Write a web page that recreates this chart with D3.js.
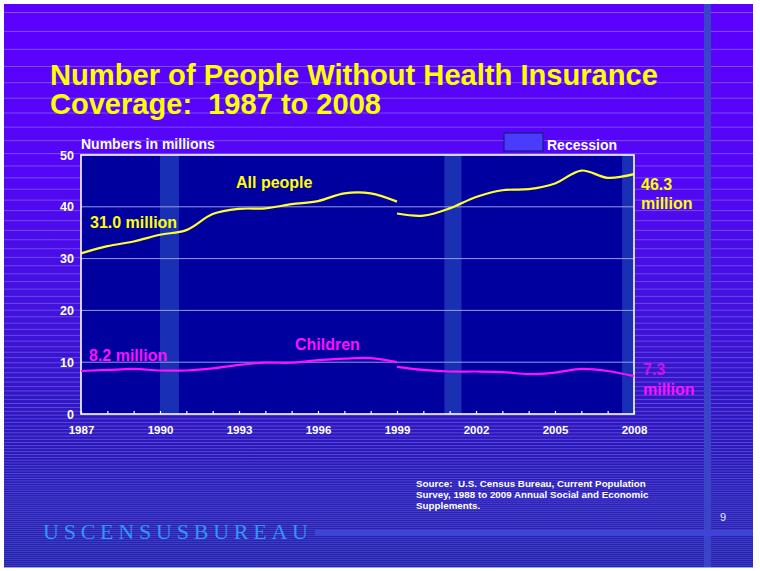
<!DOCTYPE html>
<html>
<head>
<meta charset="utf-8">
<script src="https://cdn.jsdelivr.net/npm/d3@7"></script>
<style>
  html, body { margin: 0; padding: 0; background: #ffffff; }
  svg { display: block; font-family: "Liberation Sans", Arial, sans-serif; }
</style>
</head>
<body>
<svg id="chart" width="760" height="571"></svg>
<script>
// data
years_old = [1987, 1988, 1989, 1990, 1991, 1992, 1993, 1994, 1995, 1996, 1997, 1998, 1999];
all_old = [31.0, 32.4, 33.3, 34.6, 35.5, 38.6, 39.6, 39.7, 40.5, 41.1, 42.6, 42.6, 41.0];
kids_old = [8.3, 8.5, 8.7, 8.4, 8.4, 8.8, 9.5, 9.9, 9.9, 10.4, 10.7, 10.8, 10.0];

years_new = [1999, 2000, 2001, 2002, 2003, 2004, 2005, 2006, 2007, 2008];
all_new = [38.7, 38.3, 39.7, 41.9, 43.2, 43.4, 44.5, 47.0, 45.6, 46.3];
kids_new = [9.1, 8.5, 8.2, 8.2, 8.1, 7.7, 8.0, 8.7, 8.3, 7.3];

recession_start = [1990.0, 2000.8, 2007.55];
recession_end = [1990.72, 2001.45, 2008.0];

x_tick_labels = [1987, 1990, 1993, 1996, 1999, 2002, 2005, 2008];
y_ticks = [0, 10, 20, 30, 40, 50];

var svg = d3.select("#chart");

// slide background
var defs = svg.append("defs");
var grad = defs.append("linearGradient").attr("id", "bg").attr("x1", 0).attr("y1", 0).attr("x2", 0).attr("y2", 1);
grad.append("stop").attr("offset", "0%").attr("stop-color", "#5c00ff");
grad.append("stop").attr("offset", "30%").attr("stop-color", "#5406f6");
grad.append("stop").attr("offset", "55%").attr("stop-color", "#4212dc");
grad.append("stop").attr("offset", "78%").attr("stop-color", "#2c18b8");
grad.append("stop").attr("offset", "100%").attr("stop-color", "#1c1c9c");

svg.append("rect").attr("x", 4).attr("y", 4).attr("width", 749).attr("height", 563).attr("fill", "url(#bg)");

// stripes get denser towards the bottom
var stripes = [];
var sy = 12;
while (sy < 567) {
  stripes.push(sy);
  var t = sy / 567;
  sy += Math.max(2, 18 * Math.pow(1 - t, 1.6) + 1.5);
}
svg.append("g").selectAll("line").data(stripes).join("line")
  .attr("x1", 4).attr("x2", 753)
  .attr("y1", d => d + 0.5).attr("y2", d => d + 0.5)
  .attr("stroke", d => d3.interpolateRgb("#9a70ff", "#5656e6")(d / 567))
  .attr("stroke-opacity", 0.7)
  .attr("stroke-width", 1);

// vertical bar and logo bar
svg.append("rect").attr("x", 704).attr("y", 4).attr("width", 7).attr("height", 563).attr("fill", "#3a44c8");
svg.append("rect").attr("x", 315).attr("y", 530).attr("width", 438).attr("height", 6).attr("fill", "#3f44d6");

// title
svg.append("text").attr("x", 50).attr("y", 85)
  .attr("font-size", 30).attr("font-weight", "bold").attr("fill", "#ffff00")
  .attr("textLength", 608).attr("lengthAdjust", "spacingAndGlyphs")
  .text("Number of People Without Health Insurance");
svg.append("text").attr("x", 50).attr("y", 114)
  .attr("font-size", 30).attr("font-weight", "bold").attr("fill", "#ffff00")
  .style("white-space", "pre")
  .attr("textLength", 331).attr("lengthAdjust", "spacingAndGlyphs")
  .text("Coverage:  1987 to 2008");

// plot
var plotLeft = 81, plotTop = 155, pw = 553, ph = 259;
var x = d3.scaleLinear().domain([1987, 2008]).range([plotLeft, plotLeft + pw]);
var y = d3.scaleLinear().domain([0, 50]).range([plotTop + ph, plotTop]);

svg.append("rect").attr("x", plotLeft).attr("y", plotTop).attr("width", pw).attr("height", ph).attr("fill", "#00009e");

svg.append("g").selectAll("rect").data(recession_start).join("rect")
  .attr("x", d => x(d))
  .attr("width", (d, i) => x(recession_end[i]) - x(d))
  .attr("y", plotTop).attr("height", ph)
  .attr("fill", "#1a30b4");

svg.append("g").selectAll("line").data(y_ticks.filter(d => d > 0 && d < 50)).join("line")
  .attr("x1", plotLeft).attr("x2", plotLeft + pw)
  .attr("y1", d => y(d)).attr("y2", d => y(d))
  .attr("stroke", "#9a9ae0").attr("stroke-width", 1);

// axes
var yAxis = d3.axisLeft(y).tickValues(y_ticks).tickSize(0).tickPadding(7);
var gy = svg.append("g").attr("transform", "translate(" + plotLeft + ",0)").call(yAxis);
gy.select(".domain").remove();
gy.attr("font-family", null);
gy.selectAll("text").attr("fill", "#ffffff").attr("font-size", 12.5).attr("font-weight", "bold");

var xAxis = d3.axisBottom(x).tickValues(d3.range(1987, 2009)).tickSize(-3).tickPadding(12)
  .tickFormat(d => x_tick_labels.indexOf(d) >= 0 ? d : "");
var gx = svg.append("g").attr("transform", "translate(0," + (plotTop + ph) + ")").call(xAxis);
gx.select(".domain").remove();
gx.attr("font-family", null);
gx.selectAll("line").attr("stroke", "#ffffff").attr("stroke-width", 1.2);
gx.selectAll("text").attr("fill", "#ffffff").attr("font-size", 11.5).attr("font-weight", "bold");

svg.append("rect").attr("x", plotLeft).attr("y", plotTop).attr("width", pw).attr("height", ph)
  .attr("fill", "none").attr("stroke", "#ffffff").attr("stroke-width", 1.6);

// lines
var line = d3.line().x(d => x(d[0])).y(d => y(d[1])).curve(d3.curveCatmullRom.alpha(0.5));
var series = [
  { years: years_old, vals: all_old, color: "#ffff30" },
  { years: years_new, vals: all_new, color: "#ffff30" },
  { years: years_old, vals: kids_old, color: "#ff10ff" },
  { years: years_new, vals: kids_new, color: "#ff10ff" }
];
svg.append("g").selectAll("path").data(series).join("path")
  .attr("d", s => line(s.years.map((yr, i) => [yr, s.vals[i]])))
  .attr("fill", "none").attr("stroke", s => s.color).attr("stroke-width", 2.2);

// labels
var labels = [
  { t: "Numbers in millions", x: 81, y: 149, c: "#ffffff", s: 14 },
  { t: "Recession", x: 547, y: 150, c: "#ffffff", s: 14 },
  { t: "All people", x: 236, y: 188, c: "#ffff00", s: 16 },
  { t: "31.0 million", x: 90, y: 228, c: "#ffff00", s: 16 },
  { t: "46.3", x: 641, y: 190, c: "#ffff00", s: 16 },
  { t: "million", x: 641, y: 209, c: "#ffff00", s: 16 },
  { t: "Children", x: 295, y: 350, c: "#ff10ff", s: 16 },
  { t: "8.2 million", x: 89, y: 361, c: "#ff10ff", s: 16 },
  { t: "7.3", x: 643, y: 375, c: "#d010e8", s: 16 },
  { t: "million", x: 643, y: 395, c: "#ff10ff", s: 16 }
];
svg.append("g").selectAll("text").data(labels).join("text")
  .attr("x", d => d.x).attr("y", d => d.y)
  .attr("fill", d => d.c).attr("font-size", d => d.s).attr("font-weight", "bold")
  .text(d => d.t);

svg.append("rect").attr("x", 504).attr("y", 133).attr("width", 39).attr("height", 18)
  .attr("fill", "#4a3cff").attr("stroke", "#1c1c80").attr("stroke-width", 1.2);

// source note
var source = ["Source:  U.S. Census Bureau, Current Population",
              "Survey, 1988 to 2009 Annual Social and Economic",
              "Supplements."];
svg.append("g").selectAll("text").data(source).join("text")
  .attr("x", 416).attr("y", (d, i) => 487 + i * 11)
  .attr("fill", "#ffffff").attr("font-size", 9.8).attr("font-weight", "bold")
  .style("white-space", "pre")
  .text(d => d);

svg.append("text").attr("x", 720).attr("y", 521).attr("fill", "#e8e8ff").attr("font-size", 11).text("9");

svg.append("text").attr("x", 43).attr("y", 539)
  .style("font-family", "'Liberation Serif', 'DejaVu Serif', serif").attr("font-size", 22).attr("fill", "#3296f4")
  .attr("textLength", 265).attr("lengthAdjust", "spacing")
  .text("USCENSUSBUREAU");
</script>
</body>
</html>
